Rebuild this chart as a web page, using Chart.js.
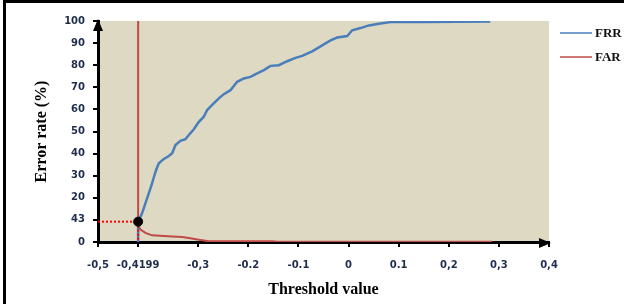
<!DOCTYPE html>
<html>
<head>
<meta charset="utf-8">
<script src="https://cdn.jsdelivr.net/npm/chart.js@4.4.1/dist/chart.umd.min.js"></script>
<style>
  html, body { margin: 0; padding: 0; background: #fff; }
  #wrap { position: relative; width: 624px; height: 304px; overflow: hidden; }
  #chart { display: block; }
  #frame {
    position: absolute; left: 3px; top: 0; width: 621px; height: 304px;
    box-sizing: border-box; border-top: 3px solid #000; border-left: 3px solid #000;
    pointer-events: none;
  }
</style>
</head>
<body>
<div id="wrap">
  <canvas id="chart" width="624" height="304"></canvas>
  <div id="frame"></div>
</div>
<script>
// threshold value -> error rate (%)
const frrThreshold = [-0.4199, -0.4199, -0.4119, -0.4053, -0.3985, -0.3920, -0.3886, -0.3840, -0.3786, -0.3686,
  -0.3586, -0.3520, -0.3454, -0.3355, -0.3255, -0.3187, -0.3087, -0.2987, -0.2888, -0.2822,
  -0.2722, -0.2588, -0.2489, -0.2357, -0.2223, -0.2089, -0.1957, -0.1824, -0.1690, -0.1558,
  -0.1390, -0.1224, -0.1059, -0.0925, -0.0726, -0.0526, -0.0360, -0.0227, -0.0027, 0.0073,
  0.0239, 0.0406, 0.0606, 0.0838, 0.1530, 0.2827];
const frrRate = [0, 9.2, 13.1, 17.6, 22.1, 26.6, 29.3, 32.6, 35.6, 37.6,
  38.9, 40.2, 43.9, 45.8, 46.5, 48.4, 51.0, 54.4, 56.7, 59.7,
  62.0, 65.0, 66.9, 68.7, 72.5, 74.0, 74.7, 76.3, 77.8, 79.7,
  80.0, 81.8, 83.3, 84.2, 86.3, 89.0, 91.2, 92.5, 93.2, 95.8,
  96.8, 98.0, 98.8, 99.5, 99.5, 99.8];

const farThreshold = [-0.4199, -0.4199, -0.4179, -0.4153, -0.4053, -0.3920, -0.3520, -0.3321, -0.3187, -0.2987,
  -0.2788, -0.1524, -0.1424, 0.2867];
const farRate = [100, 9.2, 6.9, 5.6, 4.1, 3.0, 2.5, 2.3, 1.8, 1.0,
  0.3, 0.3, 0.1, 0.1];

// equal error point
const eerThreshold = -0.4199;
const eerRate = 9.2;

const xTickValues = [-0.5, -0.4199, -0.3, -0.2, -0.1, 0, 0.1, 0.2, 0.3, 0.4];
const xTickLabels = ['-0,5', '-0,4199', '-0,3', '-0.2', '-0.1', '0', '0.1', '0,2', '0,3', '0,4'];
const yTickLabels = ['0', '43', '20', '30', '40', '50', '60', '70', '80', '90', '100'];

const zip = (xs, ys) => xs.map((x, i) => ({ x, y: ys[i] }));

const tickFont = { family: 'DejaVu Sans', size: 10, weight: 'bold' };
const titleFont = { family: 'Liberation Serif', size: 16, weight: 'bold' };

const plotDecor = {
  id: 'plotDecor',
  beforeDraw(chart) {
    const { ctx, chartArea: a } = chart;
    ctx.save();
    ctx.fillStyle = '#DDD9C3';
    ctx.fillRect(a.left, a.top, a.right - a.left, a.bottom - a.top);
    ctx.restore();
  },
  afterDraw(chart) {
    const { ctx, chartArea: a } = chart;
    ctx.save();
    ctx.fillStyle = '#000';
    // axis arrow heads
    ctx.beginPath();
    ctx.moveTo(a.left, a.top - 2);
    ctx.lineTo(a.left - 5, a.top + 10);
    ctx.lineTo(a.left + 5, a.top + 10);
    ctx.closePath();
    ctx.fill();
    ctx.beginPath();
    ctx.moveTo(a.right + 2, a.bottom + 1);
    ctx.lineTo(a.right - 10, a.bottom - 4);
    ctx.lineTo(a.right - 10, a.bottom + 6);
    ctx.closePath();
    ctx.fill();

    // legend on the right
    ctx.font = 'bold 13px "Liberation Serif"';
    ctx.textBaseline = 'middle';
    chart.data.datasets.filter(ds => ds.inLegend).forEach((ds, i) => {
      const y = 33 + i * 24;
      ctx.strokeStyle = ds.borderColor;
      ctx.lineWidth = 1.5;
      ctx.beginPath();
      ctx.moveTo(a.right + 11, y);
      ctx.lineTo(a.right + 43, y);
      ctx.stroke();
      ctx.fillStyle = '#111';
      ctx.fillText(ds.label, a.right + 46, y + 1);
    });
    ctx.restore();
  }
};

new Chart(document.getElementById('chart'), {
  type: 'scatter',
  data: {
    datasets: [
      {
        label: 'EER',
        data: [{ x: eerThreshold, y: eerRate }],
        backgroundColor: '#000',
        borderColor: '#000',
        pointRadius: 4.5,
        order: 0,
      },
      {
        label: 'eer-h',
        data: [{ x: -0.5, y: eerRate }, { x: eerThreshold, y: eerRate }],
        showLine: true,
        borderColor: '#FF0000',
        borderWidth: 2,
        borderDash: [2, 2],
        pointRadius: 0,
        order: 1,
      },
      {
        label: 'eer-v',
        data: [{ x: eerThreshold, y: eerRate }, { x: eerThreshold, y: 0 }],
        showLine: true,
        borderColor: '#FF0000',
        borderWidth: 2,
        borderDash: [2, 2],
        pointRadius: 0,
        order: 1,
      },
      {
        label: 'FRR',
        inLegend: true,
        data: zip(frrThreshold, frrRate),
        showLine: true,
        borderColor: '#4A7EBB',
        borderWidth: 2.5,
        pointRadius: 0,
        order: 2,
      },
      {
        label: 'FAR',
        inLegend: true,
        data: zip(farThreshold, farRate),
        showLine: true,
        borderColor: '#BE4B48',
        borderWidth: 2,
        pointRadius: 0,
        order: 3,
      },
    ],
  },
  options: {
    responsive: false,
    animation: false,
    layout: { padding: { left: 32, top: 21, right: 75, bottom: 5 } },
    plugins: { legend: { display: false }, tooltip: { enabled: false } },
    scales: {
      x: {
        type: 'linear',
        min: -0.5,
        max: 0.4,
        afterBuildTicks: (scale) => { scale.ticks = xTickValues.map(value => ({ value })); },
        afterFit: (scale) => { scale.height = 57; },
        ticks: {
          autoSkip: false,
          maxRotation: 0,
          padding: 12,
          color: '#1F2D4D',
          font: tickFont,
          callback: (value, index) => xTickLabels[index],
        },
        grid: { drawOnChartArea: false, color: '#000', lineWidth: 2, tickLength: 5 },
        border: { color: '#000', width: 3 },
        title: { display: true, text: 'Threshold value', color: '#000', font: titleFont, padding: 0 },
      },
      y: {
        min: 0,
        max: 100,
        afterFit: (scale) => { scale.width = 66; },
        ticks: {
          stepSize: 10,
          padding: 8,
          color: '#1F2D4D',
          font: tickFont,
          callback: (value, index) => yTickLabels[index],
        },
        grid: { drawOnChartArea: false, color: '#000', lineWidth: 2, tickLength: 5 },
        border: { color: '#000', width: 3 },
        title: { display: true, text: 'Error rate (%)', color: '#000', font: titleFont, padding: 0 },
      },
    },
  },
  plugins: [plotDecor],
});
</script>
</body>
</html>
